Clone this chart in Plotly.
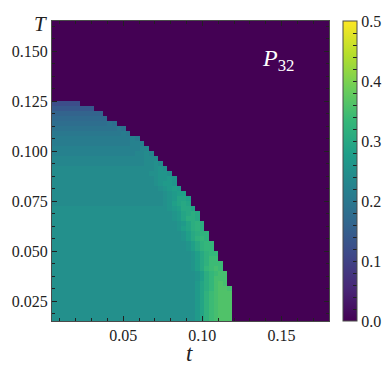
import numpy as np
import plotly.graph_objects as go

FONT = "Liberation Serif"
INK = "#222222"
FRAME = "#4a4a4a"

# extent of the image (t horizontally, T vertically)
t_range = [0.005, 0.18]
T_range = [0.015, 0.165]
n_t, n_T = 60, 60

# P_32 per T row, bottom to top, in percent:
# (interior value, interior cell count, values of the cells at the phase edge)
p32_rows = [
    (25, 31, [27, 29, 32, 34, 35, 36, 36, 36]),
    (25, 31, [27, 29, 32, 34, 35, 36, 36, 36]),
    (25, 31, [27, 29, 32, 34, 35, 36, 36, 36]),
    (25, 31, [27, 29, 32, 34, 35, 36, 36, 36]),
    (25, 31, [27, 29, 32, 34, 35, 36, 36, 36]),
    (25, 31, [27, 29, 32, 34, 35, 36, 36, 36]),
    (25, 31, [27, 29, 31, 33, 35, 36, 36, 35]),
    (25, 31, [27, 29, 31, 33, 35, 36, 35]),
    (25, 31, [26, 28, 31, 33, 35, 35, 35]),
    (25, 31, [26, 28, 31, 33, 34, 35, 35]),
    (25, 30, [26, 28, 30, 33, 34, 35, 34]),
    (25, 30, [26, 28, 30, 32, 34, 34, 34]),
    (25, 30, [26, 28, 30, 32, 34, 34]),
    (25, 30, [26, 28, 30, 32, 33, 33]),
    (25, 29, [26, 28, 30, 32, 33, 33]),
    (25, 29, [26, 28, 30, 32, 33, 33]),
    (25, 28, [26, 28, 30, 32, 33, 32]),
    (25, 28, [26, 28, 30, 31, 32, 32]),
    (25, 27, [26, 28, 29, 31, 32, 31]),
    (25, 27, [26, 27, 29, 31, 32, 31]),
    (25, 26, [26, 27, 29, 31, 31, 30]),
    (25, 26, [26, 27, 29, 30, 31, 30]),
    (25, 25, [26, 27, 28, 30, 30, 29]),
    (24, 24, [25, 26, 28, 29, 30, 29]),
    (24, 24, [25, 26, 27, 29, 29, 28]),
    (24, 24, [25, 26, 27, 28, 28]),
    (24, 23, [25, 26, 27, 28, 27]),
    (24, 22, [25, 26, 27, 27, 26]),
    (24, 22, [25, 26, 26, 27, 26]),
    (24, 21, [25, 25, 26, 26, 25]),
    (24, 21, [24, 25, 26, 25]),
    (23, 20, [24, 24, 25, 24]),
    (23, 19, [23, 24, 24, 24]),
    (22, 18, [23, 23, 24, 23]),
    (22, 18, [22, 23, 23]),
    (21, 17, [22, 22, 22]),
    (21, 16, [21, 22, 21]),
    (20, 14, [20, 21, 20]),
    (19, 13, [19, 20, 19]),
    (18, 11, [18, 19, 18]),
    (17, 10, [17, 17]),
    (16, 9, [16, 16]),
    (14, 7, [14, 14]),
    (12, 5, [12]),
]

z = np.zeros((n_T, n_t))
for r, (base, count, edge) in enumerate(p32_rows):
    row = [base] * count + edge
    z[r, :len(row)] = np.array(row) / 100.0

dt = (t_range[1] - t_range[0]) / n_t
dT = (T_range[1] - T_range[0]) / n_T

fig = go.Figure()
fig.add_trace(go.Heatmap(
    z=z,
    x0=t_range[0] + dt / 2, dx=dt,
    y0=T_range[0] + dT / 2, dy=dT,
    colorscale="Viridis",
    zmin=0, zmax=0.5,
    zsmooth=False,
    hoverinfo="skip",
    colorbar=dict(
        x=1.0501, xanchor="left", xpad=0,
        y=0.5, yanchor="middle", len=1, lenmode="fraction", ypad=0,
        thickness=14,
        outlinewidth=1, outlinecolor=FRAME,
        ticks="inside", ticklen=4, tickwidth=1, tickcolor=INK,
        tick0=0, dtick=0.02, ticklabelstep=5, tickformat=".1f",
        tickfont=dict(family=FONT, size=16, color=INK),
    ),
))

axis_common = dict(
    showline=True, linecolor=FRAME, linewidth=1, mirror="ticks",
    ticks="inside", ticklen=5, tickwidth=1, tickcolor=INK,
    showgrid=False, zeroline=False, automargin=False,
    tickfont=dict(family=FONT, size=16, color=INK),
)

fig.update_layout(
    template="none",
    width=390, height=366, autosize=False,
    margin=dict(l=44, r=56, t=13, b=53, pad=0),
    plot_bgcolor="white", paper_bgcolor="white",
    font=dict(family=FONT, size=16, color=INK),
    xaxis=dict(range=t_range, tick0=0, dtick=0.05, tickformat=".2f",
               minor=dict(dtick=0.01, tick0=0, ticks="inside", ticklen=3, tickcolor=INK),
               **axis_common),
    yaxis=dict(range=T_range, tick0=0, dtick=0.025, tickformat=".3f",
               minor=dict(dtick=0.00625, tick0=0, ticks="inside", ticklen=3, tickcolor=INK),
               **axis_common),
    annotations=[
        dict(text="<i>T</i>", xref="paper", yref="paper", x=-0.04, y=0.99,
             xanchor="center", yanchor="middle", showarrow=False,
             font=dict(family=FONT, size=21, color=INK)),
        dict(text="<i>t</i>", xref="paper", yref="paper", x=0.497, y=-0.108,
             xanchor="center", yanchor="middle", showarrow=False,
             font=dict(family=FONT, size=23, color=INK)),
        dict(text="<i>P</i><sub>32</sub>", xref="paper", yref="paper", x=0.815, y=0.87,
             xanchor="center", yanchor="middle", showarrow=False,
             font=dict(family=FONT, size=24, color="white")),
    ],
)

fig.write_html("out.html")
